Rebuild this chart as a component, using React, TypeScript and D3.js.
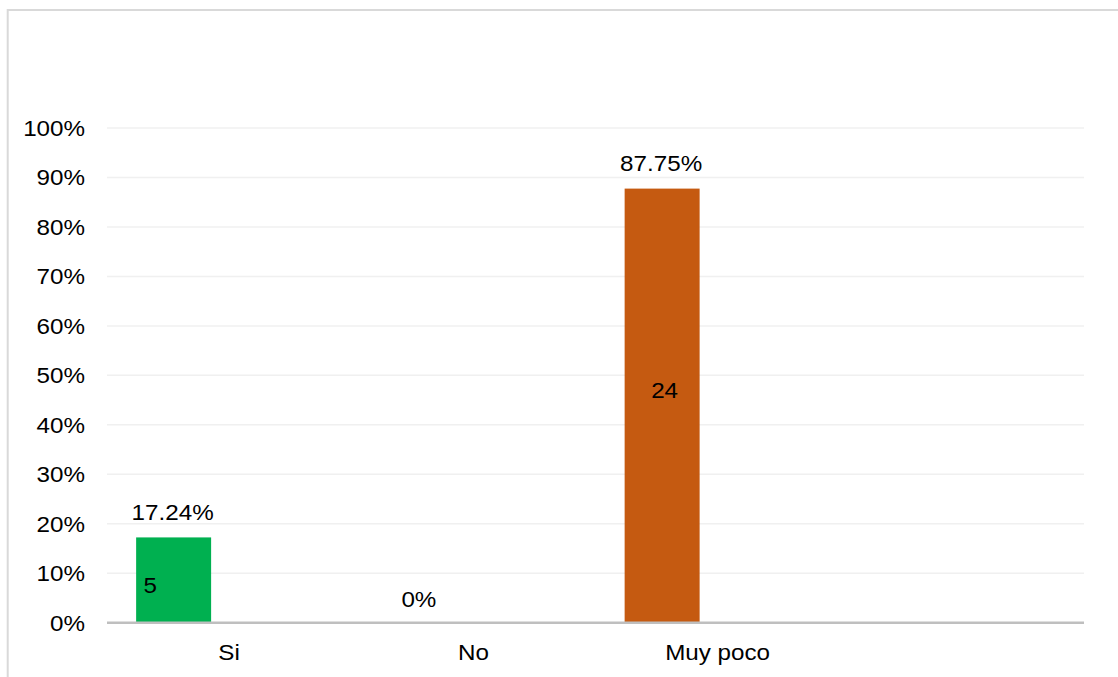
import React from "react";
import * as d3 from "d3";

const categories = ["Si", "No", "Muy poco", ""];
const percentValues = [17.24, 0, 87.75, null];
const countLabels = ["5", "", "24", ""];
const percentLabels = ["17.24%", "0%", "87.75%", ""];
const barColors = ["#00B050", "#00B050", "#C55A11", "#C55A11"];
const yTicks = [0, 10, 20, 30, 40, 50, 60, 70, 80, 90, 100];

const W = 1118;
const H = 677;
const plotLeft = 107;
const plotRight = 1084;
const plotTop = 128;
const plotBottom = 622.7;
const FONT = "'Liberation Sans', Arial, sans-serif";
const SX = 1.1;

export default function App() {
  const x = d3.scaleBand<string>().domain(categories.map((c, i) => i + ":" + c)).range([plotLeft, plotRight]).padding(0);
  const y = d3.scaleLinear().domain([0, 100]).range([plotBottom, plotTop]);
  const barW = x.bandwidth() * 0.307;
  const barOffset = -55.5; // cluster offset from band center

  const txt = (key: string, tx: number, ty: number, s: string, anchor: string) => (
    <text
      key={key}
      transform={`translate(${tx},${ty}) scale(${SX},1)`}
      textAnchor={anchor}
      fontFamily={FONT}
      fontSize={22}
      fill="#000"
    >
      {s}
    </text>
  );

  return (
    <svg width={W} height={H} style={{ position: "absolute", left: 0, top: 0, background: "#fff" }}>
      <rect x={7.7} y={10} width={W + 20} height={H + 20} fill="#fff" stroke="#d9d9d9" strokeWidth={2} />
      {yTicks.map((t) =>
        t === 0 ? null : (
          <line key={"g" + t} x1={plotLeft} x2={plotRight} y1={y(t)} y2={y(t)} stroke="#f0f0f0" strokeWidth={1.5} />
        )
      )}
      {yTicks.map((t) => txt("yl" + t, 85, y(t) + 7.8, t + "%", "end"))}
      {categories.map((c, i) => {
        const v = percentValues[i];
        if (v === null || v === 0) return null;
        const cx = (x(i + ":" + c) as number) + x.bandwidth() / 2 + barOffset;
        return <rect key={"b" + i} x={cx - barW / 2} y={y(v)} width={barW} height={plotBottom - y(v)} fill={barColors[i]} />;
      })}
      <line x1={plotLeft} x2={plotRight} y1={plotBottom} y2={plotBottom} stroke="#bfbfbf" strokeWidth={2.5} />
      {categories.map((c, i) =>
        c ? txt("c" + i, (x(i + ":" + c) as number) + x.bandwidth() / 2, 659.5, c, "middle") : null
      )}
      {categories.map((c, i) => {
        const v = percentValues[i];
        if (v === null) return null;
        const cx = (x(i + ":" + c) as number) + x.bandwidth() / 2 + barOffset;
        if (v === 0) {
          return txt("p" + i, cx + 1, 606.5, percentLabels[i], "middle");
        }
        return txt("p" + i, cx - 1, y(v) - 17.5, percentLabels[i], "middle");
      })}
      {categories.map((c, i) => {
        const v = percentValues[i];
        if (!v || !countLabels[i]) return null;
        const cx = (x(i + ":" + c) as number) + x.bandwidth() / 2 + barOffset;
        const dx = i === 0 ? -23.5 : 2.5;
        const yy = i === 0 ? y(v / 2) + 13 : y(v / 2) - 8;
        return txt("n" + i, cx + dx, yy, countLabels[i], "middle");
      })}
    </svg>
  );
}
